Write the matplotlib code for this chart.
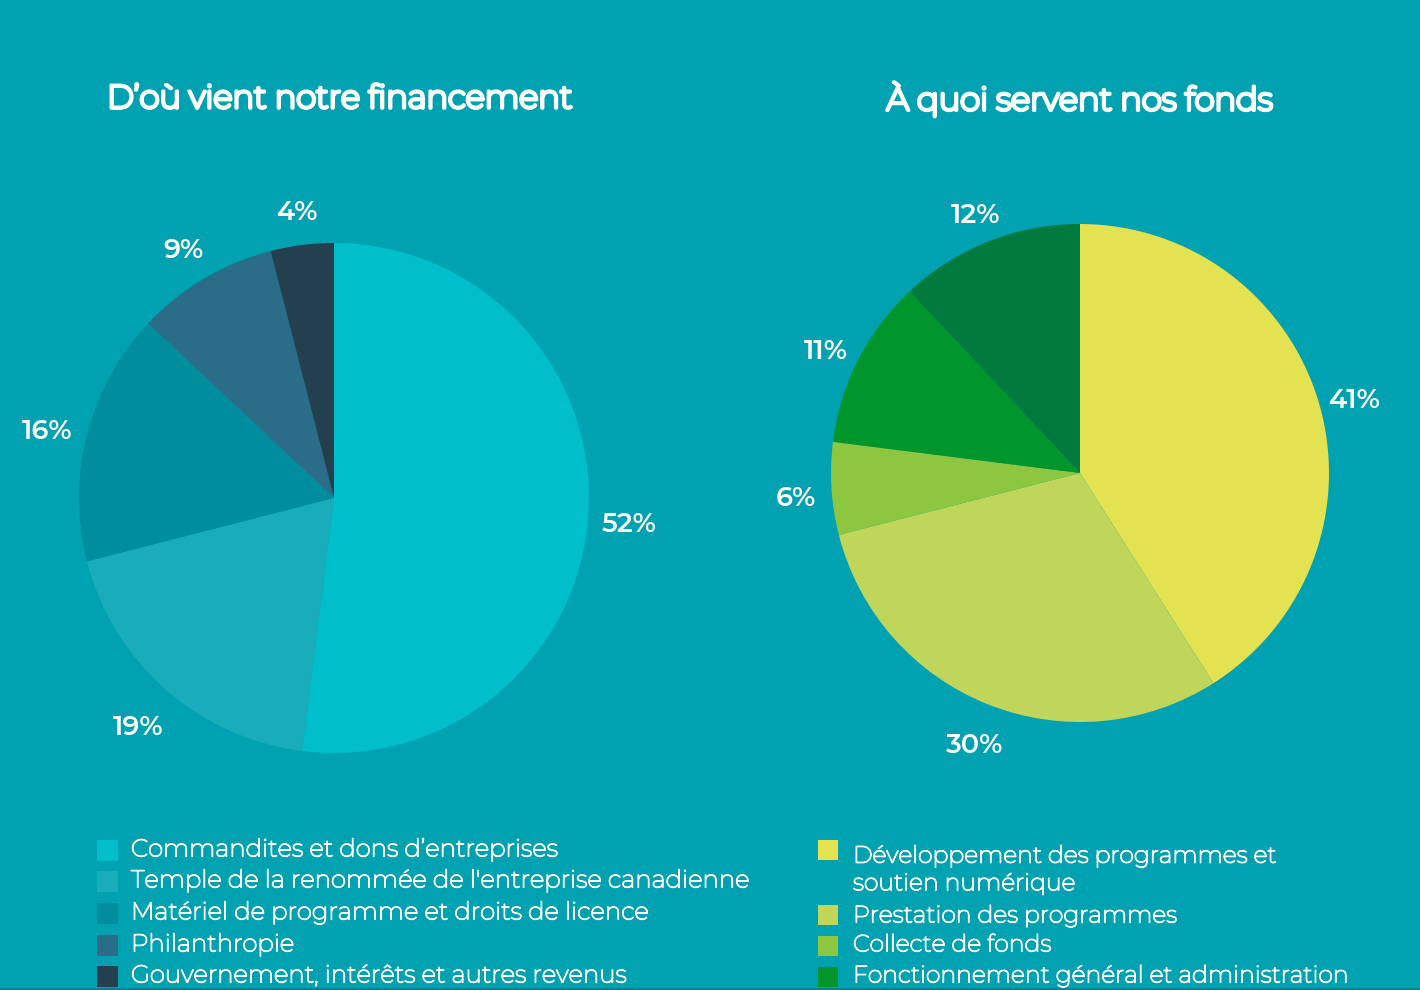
import matplotlib
matplotlib.use("Agg")
import matplotlib.pyplot as plt
from matplotlib.patches import Rectangle
import matplotlib.patheffects as pe

# ---- data ----
left_title = "D’où vient notre financement"
left_labels = ["Commandites et dons d’entreprises",
               "Temple de la renommée de l'entreprise canadienne",
               "Matériel de programme et droits de licence",
               "Philanthropie",
               "Gouvernement, intérêts et autres revenus"]
left_values = [52, 19, 16, 9, 4]
left_colors = ["#00BFCB", "#19ADBC", "#008D9D", "#2B6D89", "#243F4E"]

right_title = "À quoi servent nos fonds"
right_labels = ["Développement des programmes et\nsoutien numérique",
                "Prestation des programmes",
                "Collecte de fonds",
                "Fonctionnement général et administration"]
right_values = [41, 30, 6, 11, 12]
right_colors = ["#E3E250", "#C0D65B", "#8DC63F", "#00962C", "#007A3D"]

BG = "#00A1B0"
W, H = 1420, 990
FONT = ["Montserrat", "Open Sans", "DejaVu Sans"]
NUMFONT = ["Montserrat Alternates", "Montserrat", "DejaVu Sans"]
plt.rcParams['font.family'] = FONT


def thick(lw):
    return [pe.withStroke(linewidth=lw, foreground="white")]


fig = plt.figure(figsize=(W / 100, H / 100), dpi=100, facecolor=BG)


def px_axes(cx, cy, r):
    return fig.add_axes([(cx - r) / W, (H - cy - r) / H, 2 * r / W, 2 * r / H])


def draw_pie(ax, values, colors, dist, r_px):
    wedges, _, autotexts = ax.pie(values, colors=colors, startangle=90,
                                  counterclock=False, radius=1,
                                  autopct=lambda p: f"{p:.0f}%",
                                  pctdistance=dist,
                                  wedgeprops=dict(linewidth=0))
    for t in autotexts:
        t.set_color("white")
        t.set_fontsize(19.5)
        t.set_family(NUMFONT)
        t.set_fontweight("semibold")
        x, y = t.get_position()
        t.set_position((x, y - 7.0 / r_px))
    ax.set_xlim(-1, 1)
    ax.set_ylim(-1, 1)
    ax.set_aspect("equal")
    ax.axis("off")
    return wedges


axL = px_axes(334, 498, 255)
wL = draw_pie(axL, left_values, left_colors, 1.16, 255)
axR = px_axes(1080, 473, 249)
wR = draw_pie(axR, right_values, right_colors, 1.145, 249)

fig.text(340 / W, 1 - 99 / H, left_title, color="white", fontsize=23.3,
         ha="center", va="center", path_effects=thick(2.6))
fig.text(1080 / W, 1 - 99 / H, right_title, color="white", fontsize=23.3,
         ha="center", va="center", path_effects=thick(2.6))

# left legend
left_rows = [850, 881, 913, 945, 976]
for lab, col, y in zip(left_labels, left_colors, left_rows):
    fig.patches.append(Rectangle((97 / W, 1 - (y + 10.5) / H), 21 / W, 21 / H,
                                 transform=fig.transFigure, facecolor=col,
                                 edgecolor="none"))
    fig.text(131 / W, 1 - y / H, lab, color="white", fontsize=17.6,
             ha="left", va="center", path_effects=thick(0.9))

# right legend
right_sq = [850, 915, 946, 977]
right_txt = [870, 916, 945, 976]
for lab, col, ys, yt in zip(right_labels, right_colors[:4], right_sq, right_txt):
    fig.patches.append(Rectangle((818 / W, 1 - (ys + 10) / H), 20 / W, 20 / H,
                                 transform=fig.transFigure, facecolor=col,
                                 edgecolor="none"))
    fig.text(853 / W, 1 - yt / H, lab, color="white", fontsize=17.0,
             ha="left", va="center", linespacing=1.25, path_effects=thick(0.9))

# thin darker band along the bottom edge
fig.patches.append(Rectangle((0, 0), 1, 2 / H, transform=fig.transFigure,
                             facecolor="#00838F", edgecolor="none", zorder=10))

fig.savefig("out.png", dpi=100, facecolor=BG)
